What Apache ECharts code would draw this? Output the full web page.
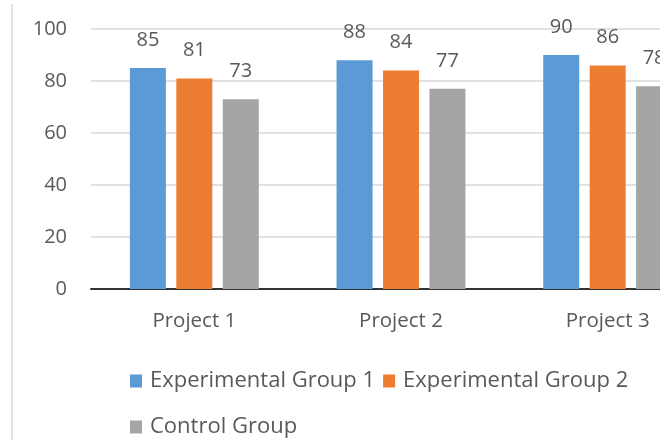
<!DOCTYPE html>
<html><head><meta charset="utf-8">
<script src="https://cdn.jsdelivr.net/npm/echarts@6/dist/echarts.min.js"></script>
<style>html,body{margin:0;padding:0;background:#fff}#c{width:660px;height:440px}</style>
</head><body><div id="c"></div>
<script>
const categories = ['Project 1', 'Project 2', 'Project 3'];
const experimental1 = [85, 88, 90];
const experimental2 = [81, 84, 86];
const control = [73, 77, 78];
const seriesNames = ['Experimental Group 1', 'Experimental Group 2', 'Control Group'];
const colors = ['#5B9BD5', '#ED7D31', '#A5A5A5'];
const FONT = 'Open Sans';
const TXT = '#595959';

const chart = echarts.init(document.getElementById('c'), null, {renderer: 'canvas'});
const label = {show: true, position: 'top', distance: 18, color: TXT, fontFamily: FONT, fontSize: 20};
const legendText = {color: TXT, fontFamily: FONT, fontSize: 22, padding: [0, 0, 0, 3]};
chart.setOption({
  animation: false,
  color: colors,
  textStyle: {fontFamily: FONT},
  grid: {left: 91, width: 620, top: 29, height: 260, containLabel: false, outerBoundsMode: 'none'},
  graphic: [{type: 'line', shape: {x1: 12, y1: 4, x2: 12, y2: 440}, style: {stroke: '#d9d9d9', lineWidth: 1.5}}],
  legend: [
    {data: [seriesNames[0], seriesNames[1]], left: 125, top: 365, itemWidth: 12, itemHeight: 13, itemGap: 8,
     icon: 'rect', textStyle: legendText},
    {data: [seriesNames[2]], left: 125, top: 411, itemWidth: 12, itemHeight: 13, itemGap: 8,
     icon: 'rect', textStyle: legendText}
  ],
  xAxis: {
    type: 'category', data: categories,
    axisLine: {lineStyle: {color: '#333', width: 2}},
    axisTick: {show: false},
    axisLabel: {color: TXT, fontFamily: FONT, fontSize: 20.5, margin: 22}
  },
  yAxis: {
    type: 'value', min: 0, max: 100, interval: 20,
    axisLine: {show: false}, axisTick: {show: false},
    splitLine: {lineStyle: {color: '#d9d9d9', width: 1.5}},
    axisLabel: {color: TXT, fontFamily: FONT, fontSize: 20, margin: 24}
  },
  series: [
    {name: seriesNames[0], type: 'bar', data: experimental1, barWidth: 36, barGap: '29%', label},
    {name: seriesNames[1], type: 'bar', data: experimental2, barWidth: 36, barGap: '29%', label},
    {name: seriesNames[2], type: 'bar', data: control, barWidth: 36, barGap: '29%', label}
  ]
});
</script></body></html>
